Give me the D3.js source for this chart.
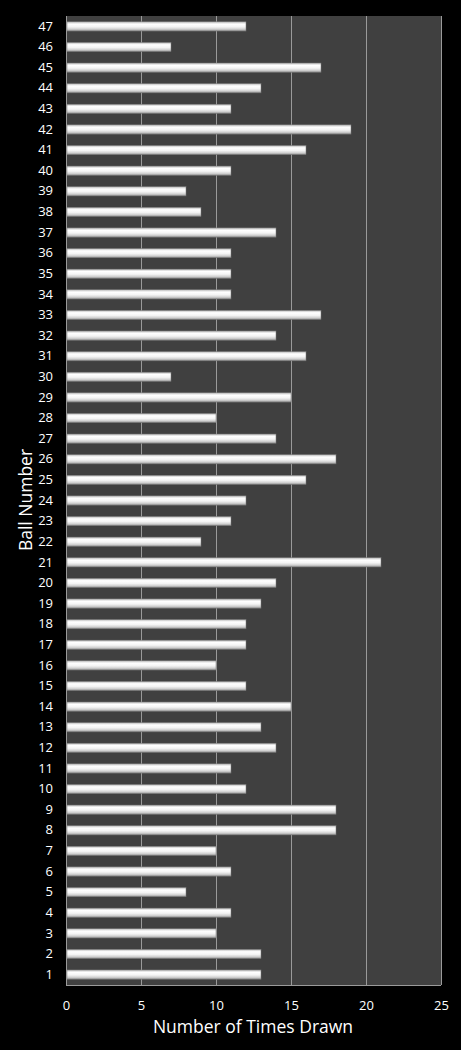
<!DOCTYPE html>
<html><head><meta charset="utf-8">
<script src="https://cdn.jsdelivr.net/npm/d3@7"></script>
<style>html,body{margin:0;padding:0;background:#000;}svg{display:block;}</style>
</head><body>
<script>
const balls = d3.range(1, 48).map(String);
const timesDrawn = [13,13,10,11,8,11,10,18,18,12,11,14,13,15,12,10,12,12,13,14,21,9,11,12,16,18,14,10,15,7,16,14,17,11,11,11,14,9,8,11,16,19,11,13,17,7,12];
const xTicks = [0,5,10,15,20,25];
const xTitle = "Number of Times Drawn";
const yTitle = "Ball Number";

const W = 461, H = 1050;
const m = {left: 66, right: 20, top: 16, bottom: 65};
const svg = d3.select("body").append("svg").attr("width", W).attr("height", H);
svg.append("rect").attr("width", W).attr("height", H).attr("fill", "#000");

const x = d3.scaleLinear().domain([0, 25]).range([m.left, W - m.right]);
const y = d3.scaleBand().domain(balls.slice().reverse()).range([m.top, H - m.bottom]).paddingInner(0.55).paddingOuter(0.28);

const defs = svg.append("defs");
const g = defs.append("linearGradient").attr("id", "bar").attr("x1", 0).attr("y1", 0).attr("x2", 0).attr("y2", 1);
[[0,"#b8b8b8"],[0.25,"#ffffff"],[0.55,"#f4f4f4"],[0.8,"#d0d0d0"],[1,"#8c8c8c"]].forEach(([o,c]) => g.append("stop").attr("offset", o).attr("stop-color", c));

svg.append("rect").attr("x", x(0)).attr("y", m.top).attr("width", x(25) - x(0)).attr("height", H - m.bottom - m.top).attr("fill", "#404040");

svg.append("g").selectAll("line").data(xTicks.slice(1)).join("line")
  .attr("x1", d => x(d) + 0.5).attr("x2", d => x(d) + 0.5)
  .attr("y1", m.top).attr("y2", H - m.bottom)
  .attr("stroke", "#9a9a9a").attr("stroke-width", 1);

svg.append("g").selectAll("rect").data(balls).join("rect")
  .attr("x", x(0) + 1)
  .attr("y", d => y(d))
  .attr("width", (d, i) => x(timesDrawn[i]) - x(0) - 1)
  .attr("height", y.bandwidth())
  .attr("fill", "url(#bar)")
  .attr("stroke", "#777").attr("stroke-width", 0.5);

svg.append("line").attr("x1", x(0) + 0.5).attr("x2", x(0) + 0.5).attr("y1", m.top).attr("y2", H - m.bottom).attr("stroke", "#9a9a9a");
svg.append("line").attr("x1", x(0)).attr("x2", x(25)).attr("y1", H - m.bottom + 0.5).attr("y2", H - m.bottom + 0.5).attr("stroke", "#9a9a9a");

const font = "'Open Sans', 'DejaVu Sans', sans-serif";

const xAxis = svg.append("g").attr("transform", `translate(0,${H - m.bottom})`)
  .call(d3.axisBottom(x).tickValues(xTicks).tickSize(0).tickPadding(16));
xAxis.select(".domain").remove();
xAxis.selectAll("text").attr("fill", "#fff").attr("font-size", 13).attr("font-family", font);

const yAxis = svg.append("g").attr("transform", `translate(${m.left},0)`)
  .call(d3.axisLeft(y).tickSize(0).tickPadding(13));
yAxis.select(".domain").remove();
yAxis.selectAll("text").attr("fill", "#fff").attr("font-size", 13).attr("font-family", font);

svg.append("text").attr("x", 253).attr("y", 1033).attr("text-anchor", "middle")
  .attr("fill", "#fff").attr("font-size", 17.5).attr("font-family", font).text(xTitle);
svg.append("text").attr("transform", "translate(32,500) rotate(-90)").attr("text-anchor", "middle")
  .attr("fill", "#fff").attr("font-size", 17.5).attr("font-family", font).text(yTitle);
</script>
</body></html>
